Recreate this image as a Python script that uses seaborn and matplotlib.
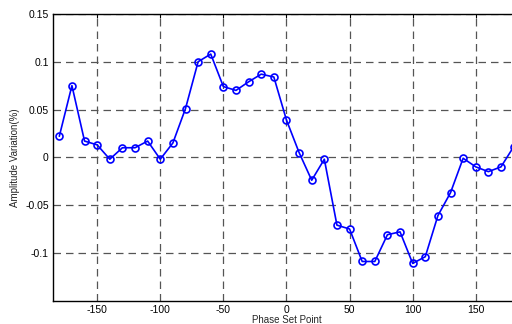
import numpy as np
import pandas as pd
import matplotlib
matplotlib.use("Agg")
import matplotlib.pyplot as plt
import seaborn as sns

# phase set points (deg) and measured amplitude variation (%)
phase = list(range(-180, 181, 10))
amplitude = [0.022, 0.075, 0.017, 0.013, -0.002, 0.010, 0.010, 0.017, -0.002, 0.015,
             0.051, 0.100, 0.108, 0.074, 0.070, 0.079, 0.087, 0.084, 0.039, 0.005,
             -0.024, -0.002, -0.071, -0.075, -0.109, -0.109, -0.081, -0.078, -0.111, -0.104,
             -0.061, -0.037, -0.001, -0.010, -0.015, -0.010, 0.011]
xticks = [-150, -100, -50, 0, 50, 100, 150]
yticks = [-0.1, -0.05, 0, 0.05, 0.1, 0.15]
ytick_labels = ["-0.1", "-0.05", "0", "0.05", "0.1", "0.15"]

df = pd.DataFrame({"phase": phase, "amp": amplitude})

sns.set_style("white")
plt.rcParams["font.family"] = ["Liberation Sans", "DejaVu Sans"]

fig = plt.figure(figsize=(5.12, 3.24), dpi=100)
ax = fig.add_axes([0.1035, 0.072, 0.912, 0.885])

sns.lineplot(data=df, x="phase", y="amp", ax=ax, color="#0000ff", linewidth=1.2,
             marker="o", markersize=5, markerfacecolor="none",
             markeredgecolor="#0000ff", markeredgewidth=1.2)

ax.set_xlim(-185, 185)
ax.set_ylim(-0.15, 0.15)
ax.set_xticks(xticks)
ax.set_xticklabels([str(t) for t in xticks], fontsize=7.5)
ax.set_yticks(yticks)
ax.set_yticklabels(ytick_labels, fontsize=7.5)
ax.grid(True, linestyle=(0, (6, 4)), color="#555555", linewidth=0.9)
ax.tick_params(direction="in", top=True, right=True, length=3, width=0.8, colors="black", pad=3)
for s in ax.spines.values():
    s.set_color("black")
    s.set_linewidth(1.0)

ax.set_xlabel("Phase Set Point", fontsize=7, labelpad=0)
ax.set_ylabel("Amplitude Variation(%)", fontsize=7, labelpad=4)

fig.savefig("out.png", dpi=100)
